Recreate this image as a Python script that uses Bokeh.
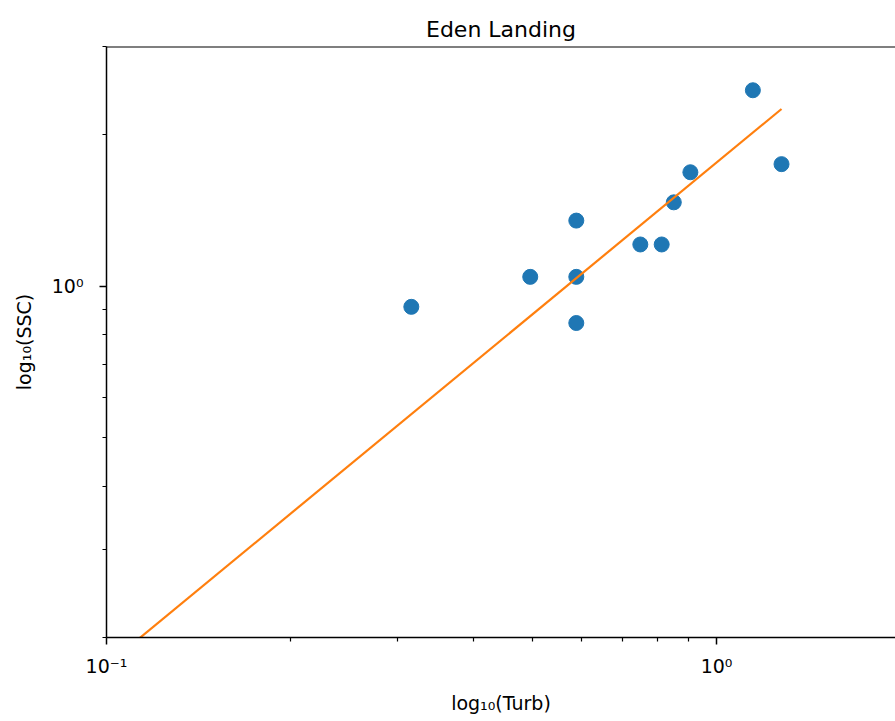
from bokeh.plotting import figure
from bokeh.models import FixedTicker, Span, Range1d
from bokeh.embed import file_html
from bokeh.resources import INLINE

# data
turb = [0.316, 0.495, 0.589, 0.589, 0.589, 0.750, 0.813, 0.851, 0.906, 1.147, 1.278]
ssc = [0.910, 1.044, 1.351, 1.044, 0.845, 1.211, 1.211, 1.469, 1.686, 2.455, 1.750]
fit_x = [0.10, 1.278]
fit_y = [0.176, 2.253]

x_major = [0.1, 1.0]
x_minor = [0.2, 0.3, 0.4, 0.5, 0.6, 0.7, 0.8, 0.9]
y_major = [1.0]
y_minor = [0.2, 0.3, 0.4, 0.5, 0.6, 0.7, 0.8, 0.9, 2.0, 3.0]
x_labels = {0.1: "10⁻¹", 1.0: "10⁰"}
y_labels = {1.0: "10⁰"}

FONT = "DejaVu Sans"

p = figure(width=895, height=721, output_backend="svg", toolbar_location=None,
           x_axis_type="log", y_axis_type="log",
           x_range=Range1d(0.1, 1.965), y_range=Range1d(0.2, 3.0),
           title="Eden Landing",
           min_border_left=106, min_border_right=0, min_border_top=46, min_border_bottom=84)
p.outline_line_color = None
p.grid.visible = False
p.background_fill_color = "white"
p.border_fill_color = "white"

p.title.align = "center"
p.title.text_font = FONT
p.title.text_font_size = "22px"
p.title.text_font_style = "normal"
p.title.text_color = "black"

for ax, major, minor, labels, lab in [
    (p.xaxis[0], x_major, x_minor, x_labels, "log₁₀(Turb)"),
    (p.yaxis[0], y_major, y_minor, y_labels, "log₁₀(SSC)"),
]:
    ax.ticker = FixedTicker(ticks=major, minor_ticks=minor)
    ax.major_label_overrides = labels
    ax.axis_label = lab
    ax.axis_label_text_font = FONT
    ax.axis_label_text_font_size = "19px"
    ax.axis_label_text_font_style = "normal"
    ax.axis_label_text_color = "black"
    ax.major_label_text_font = FONT
    ax.major_label_text_font_size = "19px"
    ax.major_label_text_color = "black"
    ax.axis_line_color = "black"
    ax.axis_line_width = 1.5
    ax.major_tick_line_color = "black"
    ax.minor_tick_line_color = "black"
    ax.major_tick_line_width = 1.5
    ax.minor_tick_line_width = 1.2
    ax.major_tick_out = 7
    ax.major_tick_in = 0
    ax.minor_tick_out = 4
    ax.minor_tick_in = 0

p.xaxis[0].major_label_standoff = 10
p.xaxis[0].axis_label_standoff = 12
p.yaxis[0].major_label_standoff = 16
p.yaxis[0].axis_label_standoff = 14
p.yaxis[0].major_label_orientation = "horizontal"

p.add_layout(Span(location=3.0, dimension="width", line_color="black", line_width=2))

p.scatter(turb, ssc, size=15, color="#1f77b4", line_color="#1f77b4")
p.line(fit_x, fit_y, line_color="#ff7f0e", line_width=2.2)

open("out.html", "w").write(file_html(p, INLINE))
